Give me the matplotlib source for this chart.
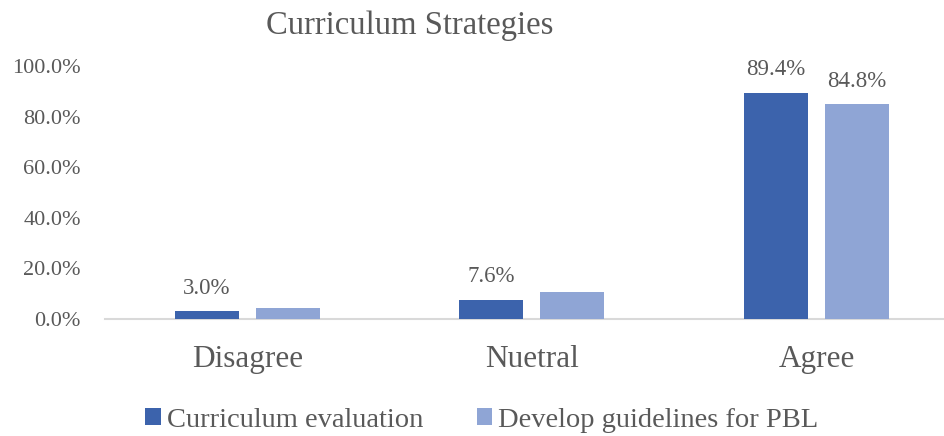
import numpy as np
import matplotlib.pyplot as plt

categories = ['Disagree', 'Nuetral', 'Agree']
curriculum_evaluation = [3.0, 7.6, 89.4]
develop_guidelines = [4.5, 10.7, 84.8]
series_names = ['Curriculum evaluation', 'Develop guidelines for PBL']
yticks = [0, 20, 40, 60, 80, 100]

dark = '#3C63AC'
light = '#8FA5D5'
grey = '#595959'

plt.rcParams['font.family'] = ['Liberation Serif', 'DejaVu Serif']

fig = plt.figure(figsize=(9.44, 4.36), dpi=100)
ax = fig.add_axes([105 / 944, (436 - 319) / 436, (944 - 105) / 944, (319 - 66) / 436])

x = np.arange(len(categories))
w = 0.225
off = 0.1424
b1 = ax.bar(x - off, curriculum_evaluation, w, color=dark, label=series_names[0], zorder=3)
b2 = ax.bar(x + off, develop_guidelines, w, color=light, label=series_names[1], zorder=3)

# data labels (only shown where the original has them)
for xi, v in zip(x - off, curriculum_evaluation):
    ax.annotate(f'{v:.1f}%', (xi, v), xytext=(0, 9), textcoords='offset points',
                ha='center', va='bottom', fontsize=16.5, color=grey)
ax.annotate(f'{develop_guidelines[2]:.1f}%', (x[2] + off, develop_guidelines[2]), xytext=(0, 9),
            textcoords='offset points', ha='center', va='bottom', fontsize=16.5, color=grey)

ax.set_xlim(-0.5, (944 - 247.5) / 284.5)
ax.set_ylim(0, 100)
ax.set_yticks(yticks)
ax.set_yticklabels([f'{t:.1f}%' for t in yticks], fontsize=16, color=grey)
ax.set_xticks(x)
ax.set_xticklabels(categories, fontsize=22.5, color=grey)
ax.tick_params(axis='y', length=0, pad=17.5)
ax.tick_params(axis='x', length=0, pad=18.5)
for s in ['top', 'right', 'left']:
    ax.spines[s].set_visible(False)
ax.spines['bottom'].set_color('#D9D9D9')
ax.spines['bottom'].set_linewidth(1.5)

fig.text(410 / 944, 1 - 26 / 436, 'Curriculum Strategies', ha='center', va='center',
         fontsize=23.5, color=grey)

fig.legend(handles=[b1, b2], labels=series_names, loc='center', bbox_to_anchor=(482 / 944, 1 - 420 / 436),
           ncol=2, frameon=False, fontsize=20.5, labelcolor=grey, handlelength=0.56, handleheight=0.56,
           handletextpad=0.21, columnspacing=1.86)

fig.savefig('out.png', dpi=100)
